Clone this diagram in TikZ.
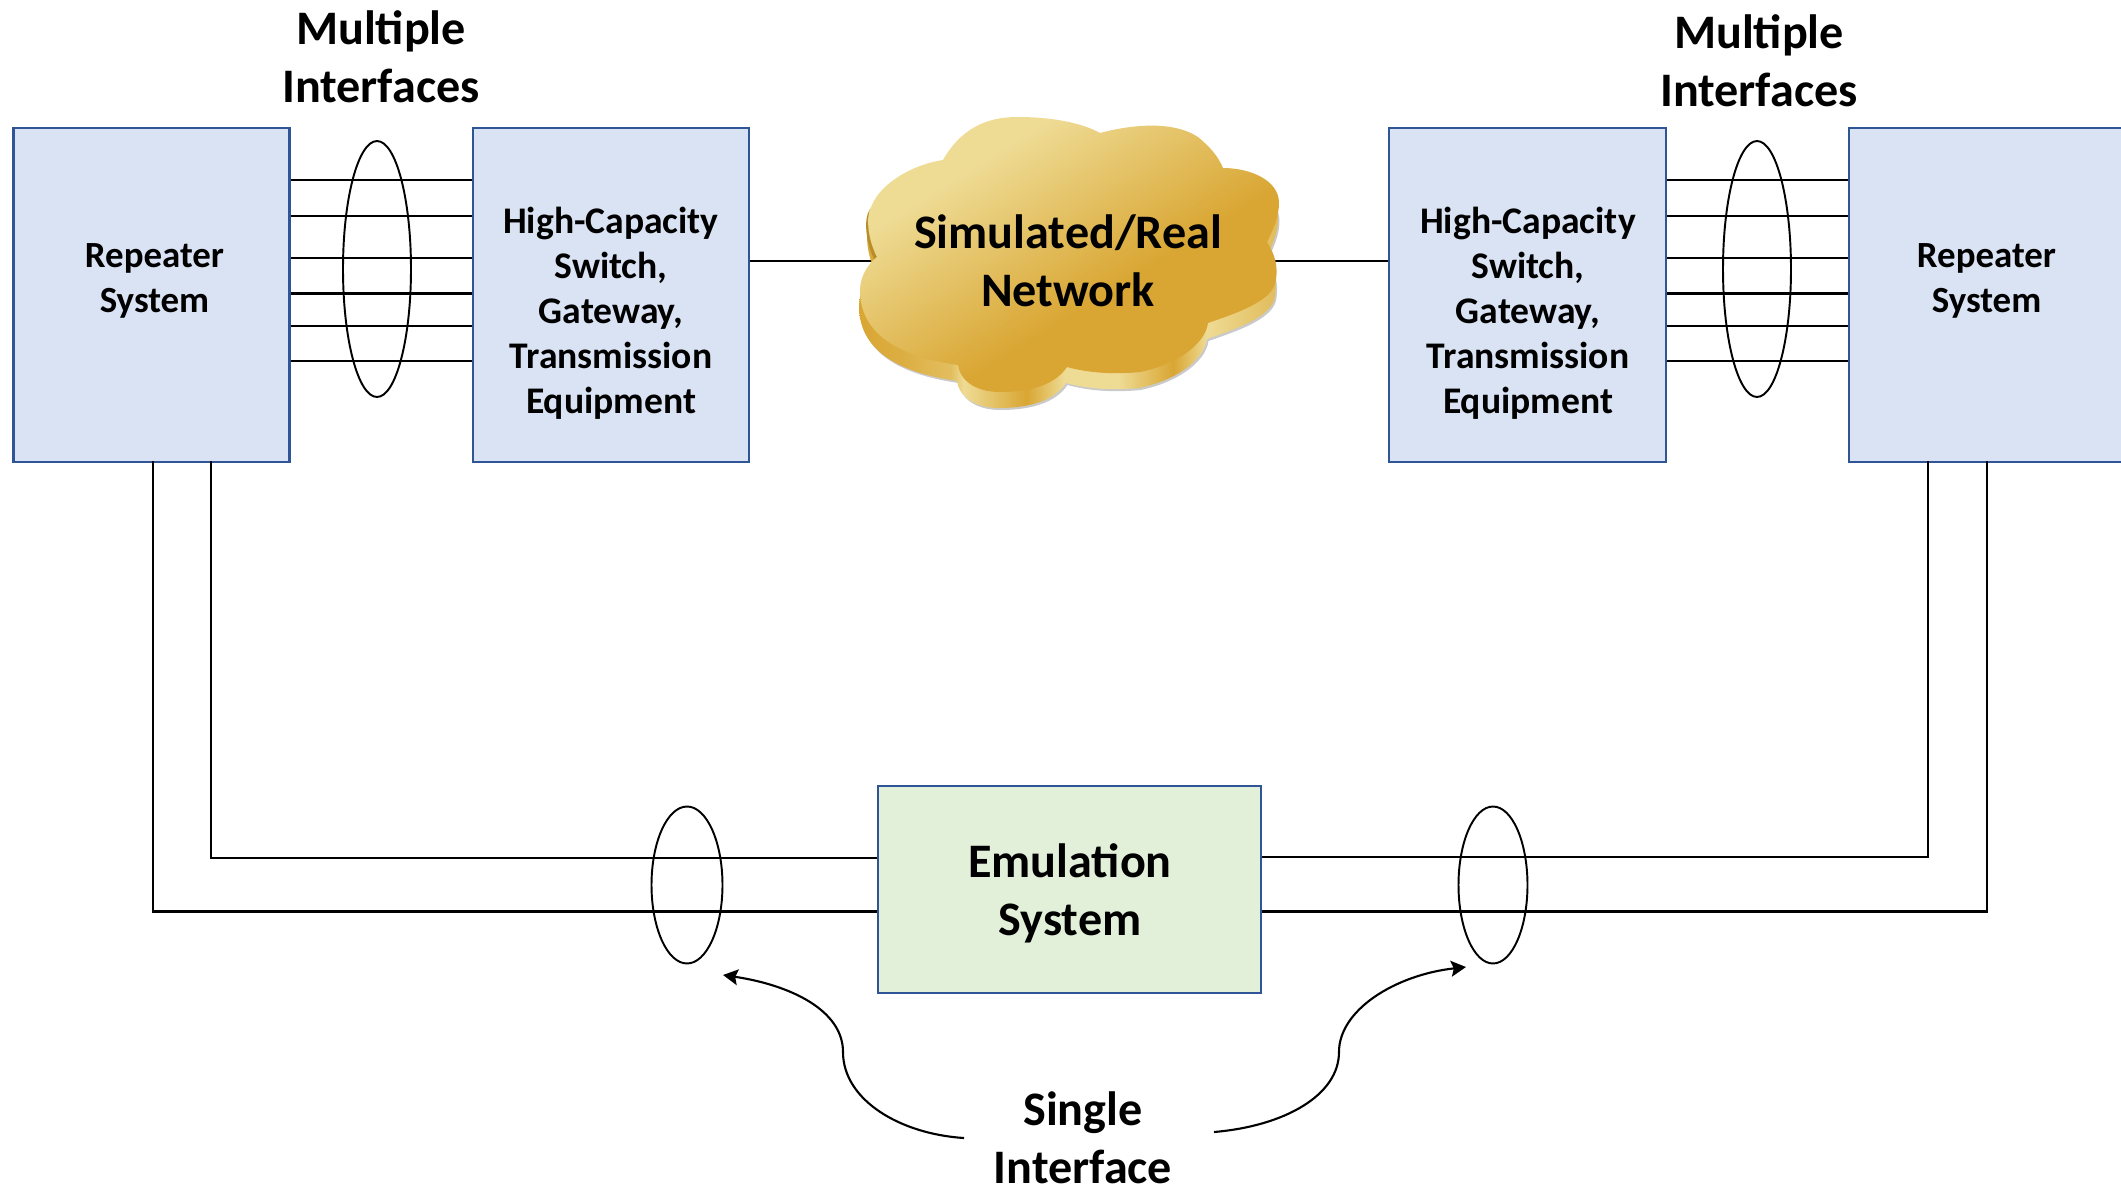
\documentclass[tikz,border=0pt]{standalone}
\usepackage{fontspec}
\setmainfont{Carlito}
\usetikzlibrary{shapes.geometric,arrows.meta}
\definecolor{boxblue}{HTML}{DAE3F3}
\definecolor{boxgreen}{HTML}{E2EFD9}
\definecolor{boxline}{HTML}{2F5597}
\definecolor{cloudlight}{HTML}{EEDB94}
\definecolor{clouddark}{HTML}{D9A633}
\pgfdeclarehorizontalshading{cloudside}{100bp}{
 color(0bp)=(clouddark); color(25bp)=(clouddark); color(30bp)=(clouddark!85!cloudlight); color(36bp)=(clouddark!55!cloudlight); color(37.5bp)=(cloudlight); color(45bp)=(clouddark);
 color(49.5bp)=(cloudlight); color(56bp)=(cloudlight); color(62.5bp)=(clouddark); color(66.5bp)=(cloudlight); color(75bp)=(clouddark!60!cloudlight); color(100bp)=(clouddark)}
\pgfdeclarehorizontalshading{cloudface}{100bp}{
 color(0bp)=(cloudlight); color(31bp)=(cloudlight); color(58bp)=(clouddark); color(100bp)=(clouddark)}
\tikzset{
 x=0.02cm,y=-0.02cm,
 sysbox/.style={draw=boxline,line width=1.4pt,fill=#1,inner sep=0pt,anchor=north west},
 wire/.style={line width=1.5pt,black},
 ring/.style={draw=black,line width=1.1pt,ellipse,inner sep=0pt},
 smalltext/.style={font=\bfseries\fontsize{21.4}{25.6}\selectfont,align=center,inner sep=0pt},
 bigtext/.style={font=\bfseries\fontsize{27.4}{33}\selectfont,align=center,inner sep=0pt},
 pointer/.style={line width=1.2pt,black,-{Stealth[length=8.5pt,width=9pt,inset=1.5pt]}},
}
\newcommand{\cloudpath}{(943,160) .. controls (960,130) and (985,117) .. (1017,117)
 .. controls (1050,117) and (1080,122) .. (1100,133)
 .. controls (1130,125) and (1172,120) .. (1198,137)
 .. controls (1210,147) and (1218,156) .. (1223,168)
 .. controls (1250,168) and (1279,180) .. (1279,203)
 .. controls (1279,218) and (1272,232) .. (1267,242)
 .. controls (1275,255) and (1278,265) .. (1276,280)
 .. controls (1274,300) and (1240,312) .. (1208,323)
 .. controls (1205,345) and (1175,365) .. (1140,372)
 .. controls (1110,375) and (1085,372) .. (1067,367)
 .. controls (1055,385) and (1030,392) .. (1000,392)
 .. controls (975,392) and (960,380) .. (958,365)
 .. controls (910,358) and (860,340) .. (860,290)
 .. controls (860,275) and (870,262) .. (877,257)
 .. controls (868,240) and (865,215) .. (872,205)
 .. controls (880,185) and (910,165) .. (943,160) -- cycle}
\begin{document}
\begin{tikzpicture}
\useasboundingbox (0,0) rectangle (2121,1187);
\clip (0,0) rectangle (2121,1187);
% boxes
\node[sysbox=boxblue,minimum width=5.52cm,minimum height=6.68cm] (repL) at (12.2,126.8) {};
\node[sysbox=boxblue,minimum width=5.52cm,minimum height=6.68cm] (swL) at (471.8,126.8) {};
\node[sysbox=boxblue,minimum width=5.54cm,minimum height=6.68cm] (swR) at (1387.8,126.8) {};
\node[sysbox=boxblue,minimum width=5.6cm,minimum height=6.68cm] (repR) at (1847.8,126.8) {};
\node[sysbox=boxgreen,minimum width=7.66cm,minimum height=4.14cm] (emu) at (876.7,784.7) {};
% labels inside boxes
\node[smalltext,font=\bfseries\fontsize{21}{25.6}\selectfont] (repLt) at (154.5,280.7) {Repeater\\System};
\node[smalltext,font=\bfseries\fontsize{21}{25.6}\selectfont] (repRt) at (1986.5,280.7) {Repeater\\System};
\node[smalltext] (swLt) at (611,313.2) {High-Capacity\\Switch,\\Gateway,\\Transmission\\Equipment};
\node[smalltext] (swRt) at (1528,313.2) {High-Capacity\\Switch,\\Gateway,\\Transmission\\Equipment};
\node[bigtext] (emut) at (1070,893.7) {Emulation\\System};
\node[bigtext] (multL) at (381,56.5) {Multiple\\Interfaces};
\node[bigtext] (multR) at (1759,60.5) {Multiple\\Interfaces};
\node[bigtext] (single) at (1083,1138) {Single\\Interface};
% bundles
\foreach \yy in {180,216,258,293.5,326,361}{
 \draw[wire] (repL.east |- 0,\yy) -- (swL.west |- 0,\yy);
 \draw[wire] (swR.east |- 0,\yy) -- (repR.west |- 0,\yy);
}
\node[ring,minimum width=1.36cm,minimum height=5.12cm] (ringTL) at (377,269) {};
\node[ring,minimum width=1.36cm,minimum height=5.12cm] (ringTR) at (1757,269) {};
% loops to emulation system
\coordinate (lo1) at (153,461);
\coordinate (lo2) at (211,461);
\coordinate (ro1) at (1987,461);
\coordinate (ro2) at (1928,461);
\draw[wire] (lo1) |- (emu.west |- 0,911.5);
\draw[wire] (lo2) |- (emu.west |- 0,858);
\draw[wire] (ro1) |- (emu.east |- 0,911.5);
\draw[wire] (ro2) |- (emu.east |- 0,857);
\node[ring,minimum width=1.42cm,minimum height=3.14cm] (ringBL) at (687,885) {};
\node[ring,minimum width=1.38cm,minimum height=3.14cm] (ringBR) at (1493,885) {};
% network links
\coordinate (cW) at (880,261);
\coordinate (cE) at (1260,261);
\draw[wire] (swL.east |- cW) -- (cW);
\draw[wire] (cE) -- (swR.west |- cE);
% cloud
\fill[black!35,opacity=.6,shift={(0.5,18)}] \cloudpath;
\shade[shading=cloudside,shift={(-1,16)}] \cloudpath;
\fill[clouddark!85!black,shift={(-2,4)}] (872,205) .. controls (865,215) and (868,240) .. (877,257) -- (890,257) -- (890,205) -- cycle;
\shade[shading=cloudface,shading angle=-58] \cloudpath;
\node[bigtext] (net) at (1068,261) {Simulated/Real\\Network};
% pointers
\coordinate (sL) at (964,1138);
\coordinate (sLm) at (843,1052);
\coordinate (tL) at (723,975);
\coordinate (sR) at (1214,1132);
\coordinate (sRm) at (1339,1052);
\coordinate (tR) at (1466,967);
\draw[pointer] (sL) .. controls (900,1134) and (843,1100) .. (sLm) .. controls (843,1010) and (790,985) .. (tL);
\draw[pointer] (sR) .. controls (1285,1126) and (1339,1095) .. (sRm) .. controls (1339,1010) and (1395,975) .. (tR);
\end{tikzpicture}
\end{document}
